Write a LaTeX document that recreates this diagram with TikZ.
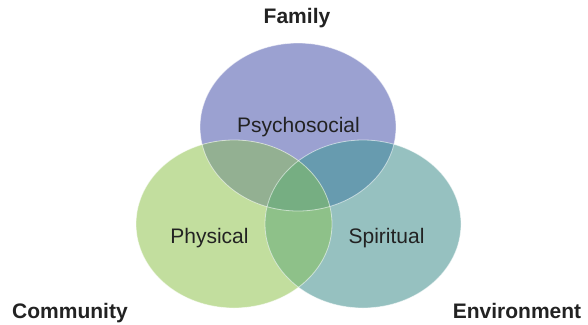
\documentclass[tikz,border=0pt]{standalone}
\usepackage{fontspec}
\setmainfont{Liberation Sans}
\definecolor{cTop}{HTML}{9BA1D1}
\definecolor{cLeft}{HTML}{C2DE9E}
\definecolor{cRight}{HTML}{96C1C0}
\definecolor{cTL}{HTML}{93B092}
\definecolor{cTR}{HTML}{679BAF}
\definecolor{cLR}{HTML}{8EC189}
\definecolor{cAll}{HTML}{76AE82}
\definecolor{ink}{HTML}{222222}
\tikzset{
  rim/.style={draw=white, draw opacity=0.55, line width=0.8pt},
  inlabel/.style={text=ink, font=\fontsize{21}{24}\selectfont, anchor=base, inner sep=0pt},
  outlabel/.style={text=ink, font=\fontsize{21}{24}\selectfont\bfseries, anchor=base, inner sep=0pt}
}
\newcommand\ovTop{(298,127) ellipse [x radius=98pt, y radius=84pt]}
\newcommand\ovLeft{(234,224) ellipse [x radius=98pt, y radius=84pt]}
\newcommand\ovRight{(363,224) ellipse [x radius=98pt, y radius=84pt]}
\begin{document}
\begin{tikzpicture}[x=1pt,y=-1pt]
  \useasboundingbox (0,0) rectangle (588,324);
  % base discs
  \fill[cTop] \ovTop;
  \fill[cLeft] \ovLeft;
  \fill[cRight] \ovRight;
  % pairwise overlaps
  \begin{scope}\clip \ovTop; \fill[cTL] \ovLeft; \end{scope}
  \begin{scope}\clip \ovTop; \fill[cTR] \ovRight; \end{scope}
  \begin{scope}\clip \ovLeft; \fill[cLR] \ovRight; \end{scope}
  % common centre
  \begin{scope}\clip \ovTop; \clip \ovLeft; \fill[cAll] \ovRight; \end{scope}
  % light rims
  \draw[rim] \ovTop;
  \draw[rim] \ovLeft;
  \draw[rim] \ovRight;
  % labels
  \node[inlabel] (psy) at (298.5,132) {Psychosocial};
  \node[inlabel] (phy) at (209.5,243) {Physical};
  \node[inlabel] (spi) at (386.5,243) {Spiritual};
  \node[outlabel] (fam) at (297,23) {Family};
  \node[outlabel] (com) at (70,318) {Community};
  \node[outlabel] (env) at (517,318) {Environment};
\end{tikzpicture}
\end{document}
